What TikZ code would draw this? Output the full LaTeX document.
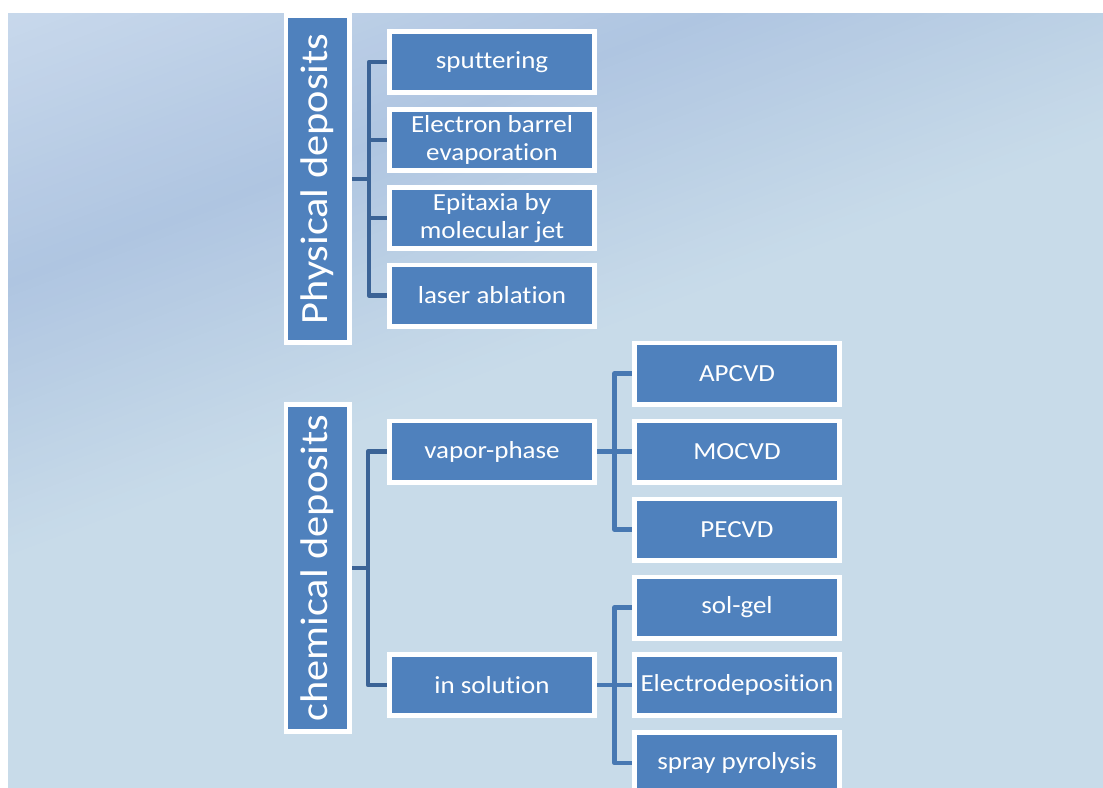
\documentclass[tikz,border=0pt]{standalone}
\usepackage{fontspec}
\setmainfont{Carlito}[FakeStretch=1.1, Ligatures=CommonOff]
\usetikzlibrary{calc,positioning}
\definecolor{boxblue}{RGB}{79,129,189}
\definecolor{linkdark}{RGB}{59,99,150}
\definecolor{linklight}{RGB}{71,120,178}
\definecolor{bgtop}{RGB}{201,217,236}
\definecolor{bgband}{RGB}{175,197,225}
\definecolor{bgbottom}{RGB}{200,219,233}
\pgfdeclarelayer{back}
\pgfdeclarelayer{links}
\pgfsetlayers{back,links,main}

\tikzset{
  methodbox/.style={draw=white, fill=boxblue, line width=3.4pt, text=white,
    inner sep=0pt, minimum width=153.4pt, minimum height=46.1pt, align=center,
    font=\fontsize{18.4}{21.3}\selectfont},
  catbox/.style={methodbox, rotate=90, minimum width=245.4pt, minimum height=47.6pt,
    font=\fontsize{28.9}{32}\selectfont},
  link/.style={line width=3.4pt, line join=round},
}

\begin{document}
\begin{tikzpicture}[x=0.75pt, y=-0.75pt]
\useasboundingbox (0,0) rectangle (1103,788);
\def\sn{0.358}   % gradient direction (sin)
\def\cs{0.934}   % gradient direction (cos)

% background with a diagonal darker band
\begin{pgfonlayer}{back}
\fill[bgbottom] (8,14) rectangle (1103,788);
\begin{scope}
\clip (8,14) rectangle (1103,788);
\fill[bgtop] ({-1500*\cs},{1500*\sn}) -- ({1500*\cs},{-1500*\sn})
  -- ({-400*\sn+1500*\cs},{-400*\cs-1500*\sn}) -- ({-400*\sn-1500*\cs},{-400*\cs+1500*\sn}) -- cycle;
\foreach \p in {0,8,...,512} {
  \ifnum\p<262
    \pgfmathtruncatemacro\mix{\p/2.62}
    \colorlet{bgstrip}{bgband!\mix!bgtop}
  \else
    \pgfmathtruncatemacro\mix{(520-\p)/2.58}
    \colorlet{bgstrip}{bgband!\mix!bgbottom}
  \fi
  \fill[bgstrip] ({\p*\sn-1500*\cs},{\p*\cs+1500*\sn}) -- ({\p*\sn+1500*\cs},{\p*\cs-1500*\sn})
    -- ({(\p+9)*\sn+1500*\cs},{(\p+9)*\cs-1500*\sn}) -- ({(\p+9)*\sn-1500*\cs},{(\p+9)*\cs+1500*\sn}) -- cycle;
}
\end{scope}
\end{pgfonlayer}

% physical branch
\node[catbox] (phys) at (317.5,179) {Physical deposits};
\node[methodbox] (sput)  at (492,62)    {sputtering};
\node[methodbox] (elec)  at (492,140)   {Electron barrel\\evaporation};
\node[methodbox] (epit)  at (492,218)   {Epitaxia by\\molecular jet};
\node[methodbox] (laser) at (492,295.5) {laser ablation};

% chemical branch
\node[catbox] (chem) at (317.5,568) {chemical deposits};
\node[methodbox] (vapor) at (492,451.5) {vapor-phase};
\node[methodbox] (insol) at (492,685)   {in solution};

\node[methodbox] (apcvd)   at (737,373.5) {APCVD};
\node[methodbox] (mocvd)   at (737,451.5) {MOCVD};
\node[methodbox] (pecvd)   at (737,529.5) {PECVD};
\node[methodbox] (solgel)  at (737,607.5) {sol-gel};
\node[methodbox] (electro) at (737,685)   {Electrodeposition};
\node[methodbox] (spray)   at (737,763)   {spray pyrolysis};

% connectors
\coordinate (physbus)  at (369,179);
\coordinate (chembus)  at (368,568);
\coordinate (vaporbus) at (614.5,451.5);
\coordinate (insolbus) at (614.5,685);
\begin{pgfonlayer}{links}
\draw[link, linkdark] (phys) -- (physbus);
\draw[link, linkdark] (sput.west) -- (sput.west -| physbus) -- (laser.west -| physbus) -- (laser.west);
\draw[link, linkdark] (elec.west -| physbus) -- (elec.west);
\draw[link, linkdark] (epit.west -| physbus) -- (epit.west);

\draw[link, linkdark] (chem) -- (chembus);
\draw[link, linkdark] (vapor.west) -- (vapor.west -| chembus) -- (insol.west -| chembus) -- (insol.west);

\draw[link, linklight] (vapor.east) -- (mocvd.west);
\draw[link, linklight] (apcvd.west) -- (apcvd.west -| vaporbus) -- (pecvd.west -| vaporbus) -- (pecvd.west);
\draw[link, linklight] (insol.east) -- (electro.west);
\draw[link, linklight] (solgel.west) -- (solgel.west -| insolbus) -- (spray.west -| insolbus) -- (spray.west);
\end{pgfonlayer}
\end{tikzpicture}
\end{document}
